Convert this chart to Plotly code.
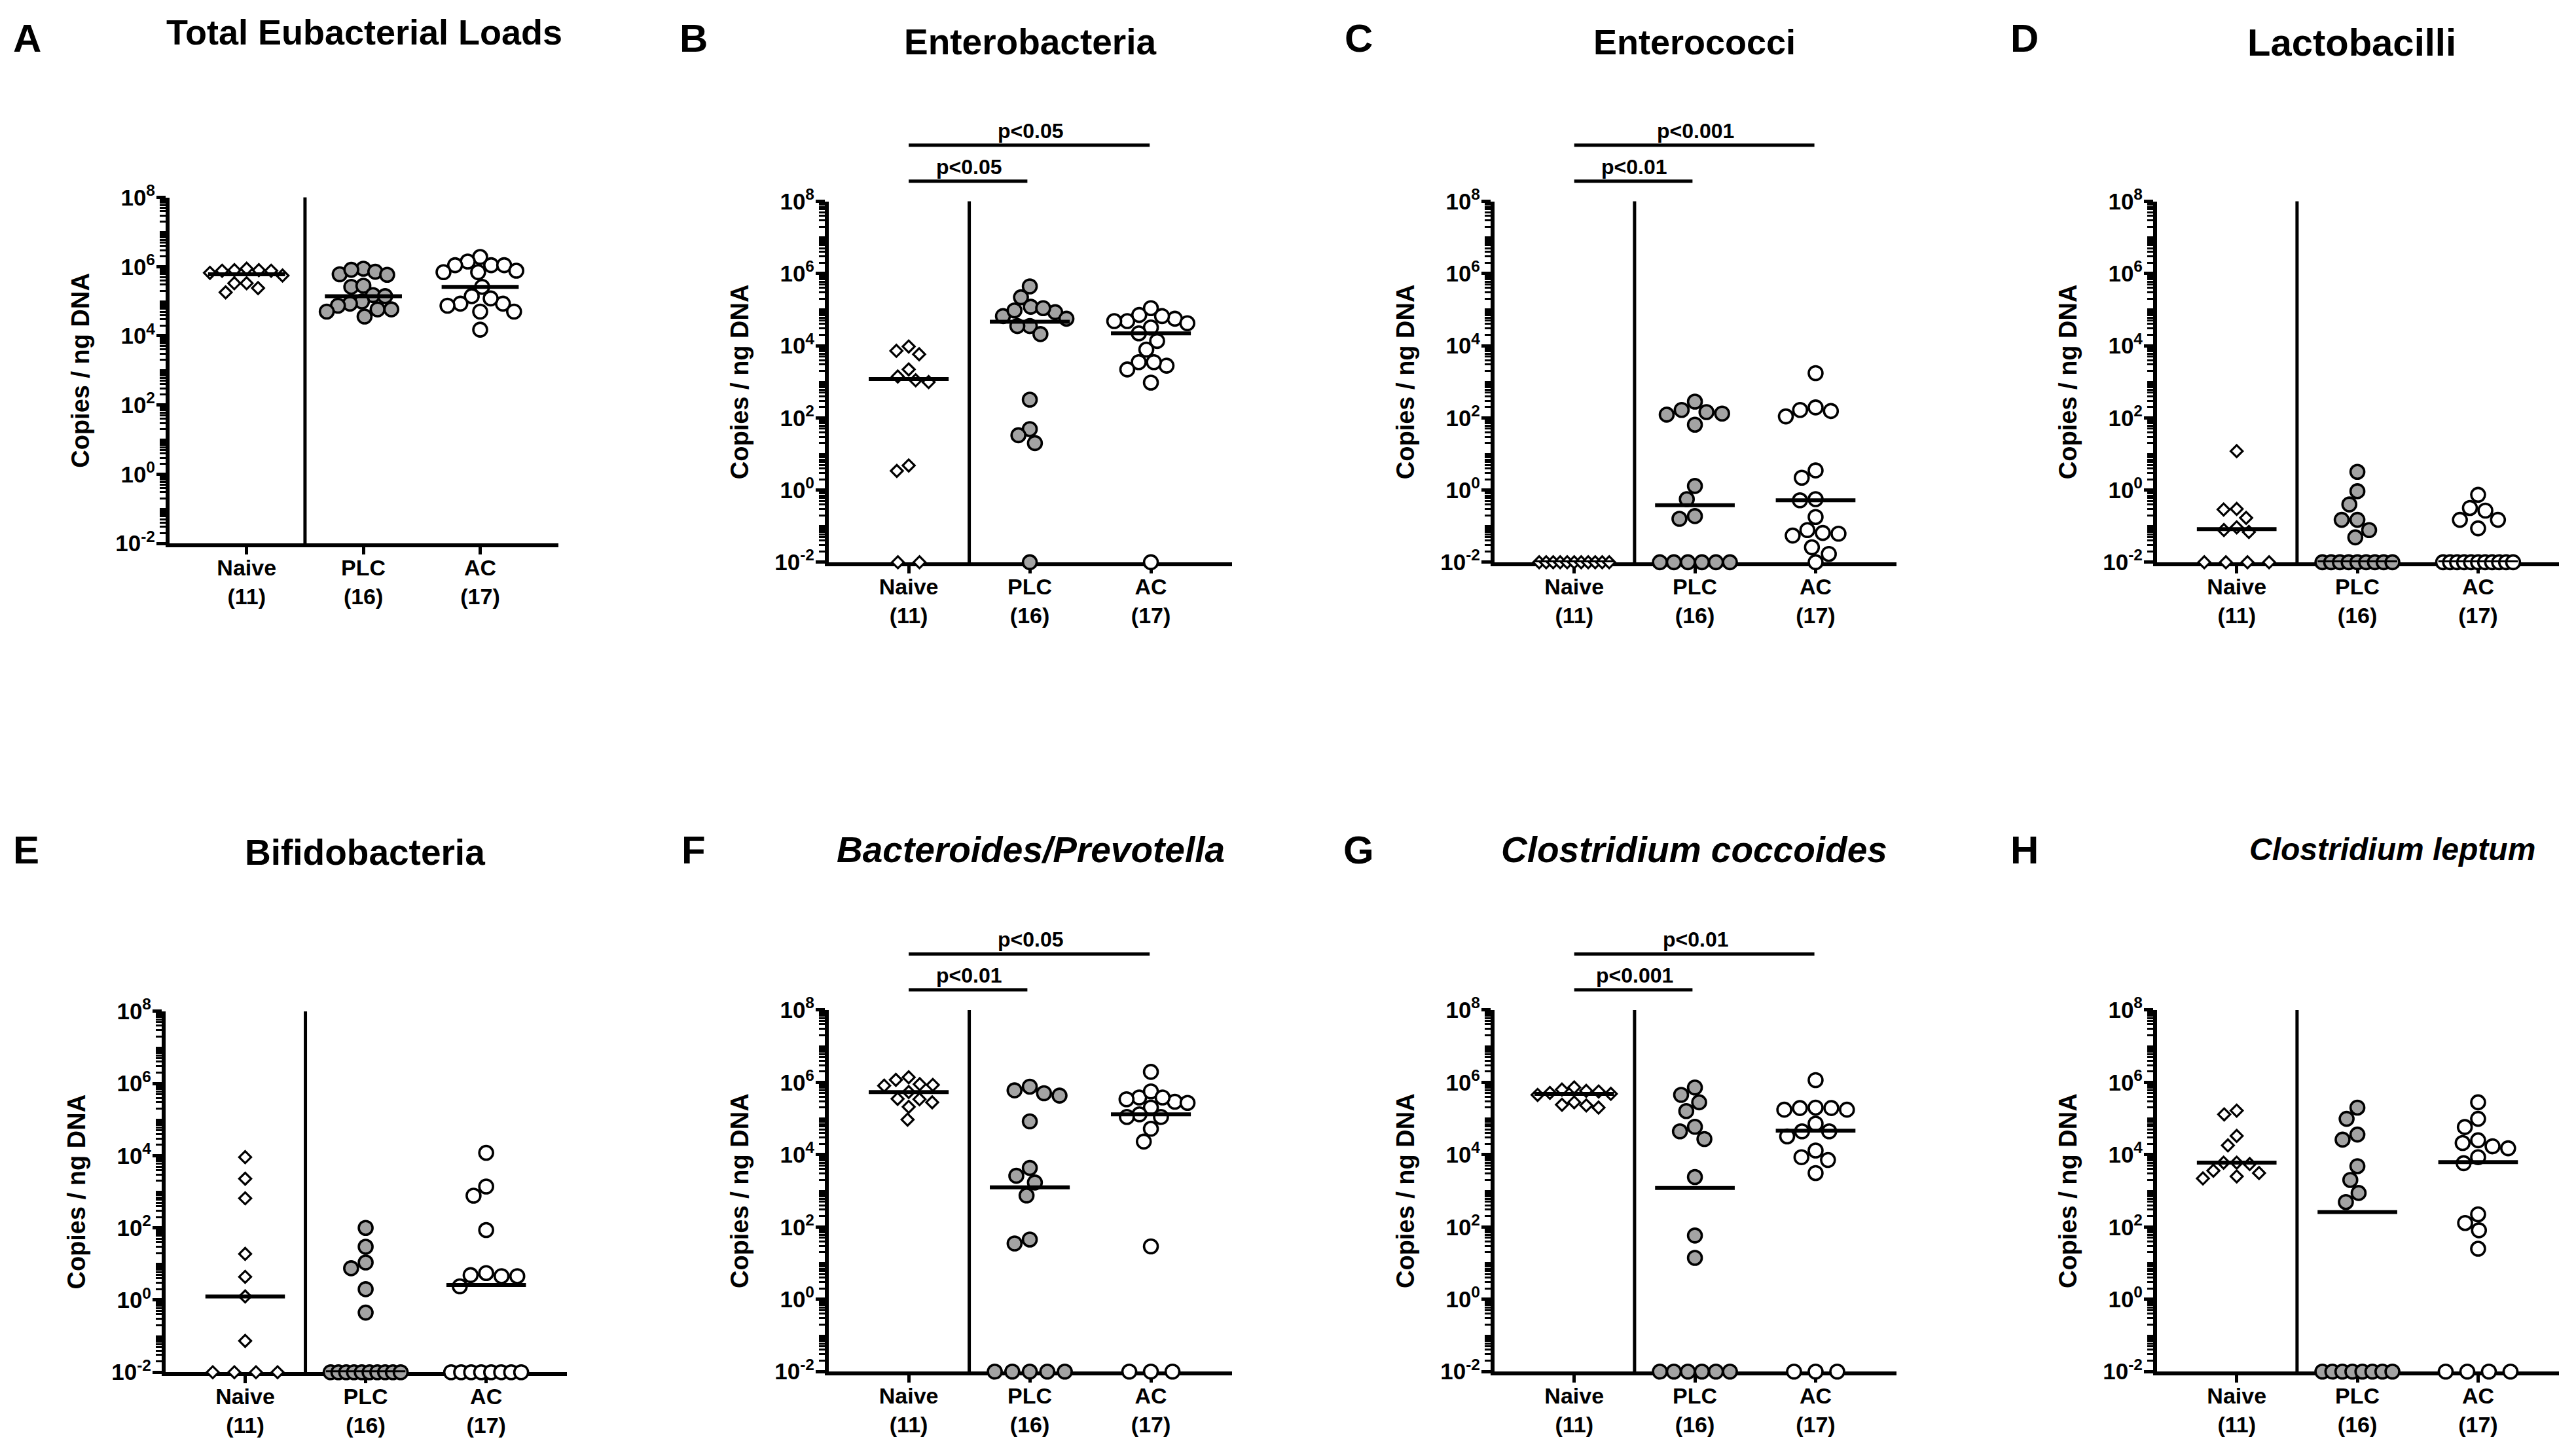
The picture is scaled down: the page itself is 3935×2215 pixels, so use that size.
import numpy as np
import plotly.graph_objects as go

# ---------------- data ----------------
groups = ["Naive", "PLC", "AC"]
group_n = ["(11)", "(16)", "(17)"]
panel_letters = ["A", "B", "C", "D", "E", "F", "G", "H"]
panel_titles = ["Total Eubacterial Loads", "Enterobacteria", "Enterococci", "Lactobacilli",
                "Bifidobacteria", "<i>Bacteroides/Prevotella</i>",
                "<i>Clostridium coccoides</i>", "<i>Clostridium leptum</i>"]
y_axis_title = "Copies / ng DNA"
y_tick_vals = [1e-2, 1e0, 1e2, 1e4, 1e6, 1e8]
y_tick_text = ["10<sup>-2</sup>", "10<sup>0</sup>", "10<sup>2</sup>", "10<sup>4</sup>",
               "10<sup>6</sup>", "10<sup>8</sup>"]

# A: Total Eubacterial Loads
naive_A = [8.7e5, 7.6e5, 5.5e5, 7.6e5, 7.9e5, 6.6e5, 7.9e5, 2.4e5, 3.3e5, 3.3e5, 1.8e5]
plc_A = [8.7e5, 6.0e5, 7.1e5, 5.8e5, 8.1e5, 2.6e5, 2.8e5, 1.5e5, 1.4e5, 9.8e4, 8.5e4, 7.4e4,
         5.0e4, 5.8e4, 5.8e4, 3.6e4]
ac_A = [1.1e6, 1.1e6, 1.9e6, 1.4e6, 1.1e6, 6.9e5, 6.9e5, 7.6e5, 2.6e5, 1.4e5, 8.5e4, 8.5e4,
        1.2e5, 7.4e4, 5.0e4, 5.0e4, 1.5e4]
median_A = [6.0e5, 1.4e5, 2.6e5]

# B: Enterobacteria
naive_B = [9.5e3, 5.8e3, 7.2e3, 2.2e3, 9.8e2, 1.1e3, 1.4e3, 3.4, 4.8, 0.01, 0.01]
plc_B = [6.6e4, 9.5e4, 8.5e4, 1.2e5, 1.1e5, 2.2e5, 4.4e5, 3.5e4, 3.5e4, 5.6e4, 2.1e4, 3.2e2,
         49, 33, 20, 0.01]
ac_B = [4.8e4, 5.6e4, 6.6e4, 7.1e4, 1.1e5, 4.8e4, 4.2e4, 3.2e4, 2.2e4, 1.35e4, 7.8e3, 2.8e3,
        3.5e3, 3.5e3, 2.2e3, 9.5e2, 0.01]
median_B = [1.2e3, 4.6e4, 2.2e4]

# C: Enterococci
naive_C = [0.01] * 11
plc_C = [145, 166, 132, 282, 123, 65, 1.3, 0.56, 0.16, 0.19, 0.01, 0.01, 0.01, 0.01, 0.01, 0.01]
ac_C = [1740, 155, 195, 110, 166, 2.2, 3.5, 0.52, 0.56, 0.18, 0.055, 0.078, 0.062, 0.065,
        0.026, 0.017, 0.01]
median_C = [0.01, 0.38, 0.52]

# D: Lactobacilli
naive_D = [12, 0.29, 0.30, 0.17, 0.093, 0.069, 0.078, 0.01, 0.01, 0.01, 0.01]
plc_D = [3.2, 0.93, 0.40, 0.15, 0.15, 0.078, 0.049] + [0.01] * 9
ac_D = [0.74, 0.27, 0.32, 0.15, 0.15, 0.087] + [0.01] * 11
median_D = [0.083, 0.01, 0.01]

# E: Bifidobacteria
naive_E = [9.1e3, 2.3e3, 660, 19, 4.4, 1.26, 0.074, 0.01, 0.01, 0.01, 0.01]
plc_E = [100, 30, 11, 7.6, 2.0, 0.45] + [0.01] * 10
ac_E = [1.2e4, 1.4e3, 780, 87, 5.6, 4.6, 4.6, 4.9, 2.4] + [0.01] * 8
median_E = [1.26, 0.01, 2.6]

# F: Bacteroides/Prevotella
naive_F = [1.17e6, 8.5e5, 8.1e5, 8.9e5, 1.38e6, 5.4e5, 3.5e5, 2.8e5, 3.4e5, 2.1e5, 9.3e4]
plc_F = [7.6e5, 4.3e5, 5.0e5, 6.0e5, 8.3e4, 4.3e3, 1.7e3, 2.6e3, 740, 45, 35] + [0.01] * 5
ac_F = [1.95e6, 3.8e5, 2.9e5, 2.7e5, 5.6e5, 3.4e5, 3.8e5, 2.0e5, 1.3e5, 1.1e5, 5.2e4, 2.3e4,
        29, 1.1e5, 0.01, 0.01, 0.01]
median_F = [5.4e5, 1.25e3, 1.3e5]

# G: Clostridium coccoides
naive_G = [7.2e5, 5.1e5, 4.8e5, 5.6e5, 6.3e5, 5.8e5, 4.5e5, 2.3e5, 2.4e5, 2.8e5, 2.0e5]
plc_G = [7.2e5, 4.5e5, 2.8e5, 1.6e5, 5.9e4, 4.4e4, 2.7e4, 2.4e3, 58, 14] + [0.01] * 6
ac_G = [1.15e6, 1.95e5, 1.95e5, 1.75e5, 1.75e5, 2.0e5, 7.2e4, 4.4e4, 3.2e4, 4.4e4, 1.3e4,
        7.1e3, 8.5e3, 3.1e3, 0.01, 0.01, 0.01]
median_G = [4.8e5, 1.2e3, 4.6e4]

# H: Clostridium leptum
naive_H = [1.3e5, 1.65e5, 3.3e4, 1.8e4, 6.0e3, 5.5e3, 6.0e3, 2.5e3, 3.1e3, 3.6e3, 2.2e3]
plc_H = [2.0e5, 9.8e4, 3.6e4, 2.6e4, 4.8e3, 2.0e3, 870, 490] + [0.01] * 8
ac_H = [2.8e5, 9.8e4, 5.8e4, 1.5e4, 1.7e4, 2.1e4, 2.5e4, 5.8e3, 8.5e3, 224, 129, 81, 25,
        0.01, 0.01, 0.01, 0.01]
median_H = [6.0e3, 260, 6.2e3]

# significance brackets: (lower bracket Naive-PLC, upper bracket Naive-AC)
sig_lower = {"B": "p<0.05", "C": "p<0.01", "F": "p<0.01", "G": "p<0.001"}
sig_upper = {"B": "p<0.05", "C": "p<0.001", "F": "p<0.05", "G": "p<0.01"}

panel_data = {
    "A": (naive_A, plc_A, ac_A, median_A), "B": (naive_B, plc_B, ac_B, median_B),
    "C": (naive_C, plc_C, ac_C, median_C), "D": (naive_D, plc_D, ac_D, median_D),
    "E": (naive_E, plc_E, ac_E, median_E), "F": (naive_F, plc_F, ac_F, median_F),
    "G": (naive_G, plc_G, ac_G, median_G), "H": (naive_H, plc_H, ac_H, median_H),
}

# ---------------- layout (pixels, in target-image coordinates) ----------------
W, H = 3935, 2215
boxes = {
    "A": (259, 853, 299, 829), "B": (1266, 1882, 305, 858),
    "C": (2283, 2897, 305, 858), "D": (3295, 3909, 305, 858),
    "E": (253, 866, 1546, 2099), "F": (1266, 1882, 1544, 2098),
    "G": (2283, 2897, 1544, 2098), "H": (3295, 3909, 1544, 2098),
}
title_pos = {"A": (556, 46), "B": (1574, 61), "C": (2588, 61), "D": (3592, 61),
             "E": (557, 1302), "F": (1574, 1298), "G": (2588, 1298), "H": (3654, 1298)}
title_size = {"A": 54, "B": 55, "C": 54, "D": 58, "E": 55, "F": 55, "G": 55, "H": 48}
letter_pos = {"A": (41, 55), "B": (1059, 55), "C": (2075, 55), "D": (3092, 55),
              "E": (40, 1299), "F": (1059, 1299), "G": (2075, 1299), "H": (3092, 1299)}
XR = [-0.66, 2.67]
FONT = "Liberation Sans, Arial, Helvetica, sans-serif"

# the captured page is slightly offset / rescaled vertically; compensate
Y_SCALE, Y_OFF = 0.9835, 20.6


def px_x(px):
    return px / W


def ty(py):
    return (py - Y_OFF) / Y_SCALE


def px_y(py):
    return 1 - ty(py) / H


def swarm(vals, ppu, ppd, d, floor=0.01, floor_span=107.0, floor_step=33.0):
    vals = np.asarray(vals, float)
    off = np.zeros(len(vals))
    isfloor = vals <= floor * 1.0001
    fidx = np.where(isfloor)[0]
    nf = len(fidx)
    placed = []
    if nf > 1:
        step = min(floor_step, floor_span / (nf - 1))
        for k, i in enumerate(fidx):
            off[i] = (k - (nf - 1) / 2) * step
    for i in fidx:
        placed.append((off[i], np.log10(vals[i]) * ppd))
    order = [i for i in np.argsort(-vals, kind="stable") if not isfloor[i]]
    for i in order:
        y = np.log10(vals[i]) * ppd
        cands = [0.0]
        for (px, py) in placed:
            dy = abs(py - y)
            if dy < d:
                dx = np.sqrt(d * d - dy * dy)
                cands += [px + dx, px - dx]
        cands.sort(key=lambda c: (round(abs(c), 6), c))
        chosen = cands[-1]
        for c in cands:
            if all((c - px) ** 2 + (y - py) ** 2 >= d * d - 1e-6 for px, py in placed):
                chosen = c
                break
        placed.append((chosen, y))
        off[i] = chosen
    nonf = [i for i in range(len(vals)) if not isfloor[i]]
    if nonf:
        m = max(abs(off[i]) for i in nonf)
        if m > 56:
            for i in nonf:
                off[i] *= 56 / m
    return off / ppu


fig = go.Figure()
layout = dict(width=W, height=H, margin=dict(l=0, r=0, t=0, b=0),
              paper_bgcolor="white", plot_bgcolor="white", showlegend=False,
              font=dict(family=FONT, color="black"))
shapes, annotations = [], []

marker_styles = [
    dict(symbol="diamond", size=14, color="white", line=dict(color="black", width=3.2)),
    dict(symbol="circle", size=21, color="#a3a3a3", line=dict(color="black", width=3.6)),
    dict(symbol="circle", size=21, color="white", line=dict(color="black", width=3.6)),
]
marker_diam = [20, 24, 24]

minor_vals = [k * 10.0 ** e for e in range(-2, 8) for k in range(2, 11)]

for idx, key in enumerate(panel_letters):
    n = idx + 1
    xa = "x" if n == 1 else f"x{n}"
    ya = "y" if n == 1 else f"y{n}"
    x0, x1, yt, yb = boxes[key]
    ppu = (x1 - x0) / (XR[1] - XR[0])
    ppd = (ty(yb) - ty(yt)) / 10.0
    series = panel_data[key]
    for g in range(3):
        vals = series[g]
        offs = swarm(vals, ppu, ppd, marker_diam[g])
        fig.add_trace(go.Scatter(
            x=g + offs, y=vals, mode="markers", marker=marker_styles[g],
            xaxis=xa, yaxis=ya, cliponaxis=False, hoverinfo="skip"))
    med = series[3]
    for g in range(3):
        fig.add_trace(go.Scatter(
            x=[g - 0.33, g + 0.33], y=[med[g], med[g]], mode="lines",
            line=dict(color="black", width=6), xaxis=xa, yaxis=ya,
            cliponaxis=False, hoverinfo="skip"))

    layout["xaxis" if n == 1 else f"xaxis{n}"] = dict(
        domain=[px_x(x0), px_x(x1)], anchor=ya, range=XR, showgrid=False, zeroline=False,
        showline=True, linecolor="black", linewidth=6, ticks="outside", ticklen=11,
        tickwidth=5, tickcolor="black", tickvals=[0, 1, 2],
        ticktext=[f"{groups[i]}<br>{group_n[i]}" for i in range(3)],
        tickfont=dict(family=FONT, size=34, color="black", weight="bold"),
        ticklabelstandoff=-9, layer="below traces", fixedrange=True)
    layout["yaxis" if n == 1 else f"yaxis{n}"] = dict(
        domain=[px_y(yb), px_y(yt)], anchor=xa, type="log", range=[-2, 8],
        showgrid=False, zeroline=False, showline=True, linecolor="black", linewidth=6,
        ticks="outside", ticklen=14, tickwidth=5, tickcolor="black",
        tickvals=y_tick_vals, ticktext=y_tick_text,
        tickfont=dict(family=FONT, size=35, color="black", weight="bold"),
        ticklabelstandoff=-5,
        minor=dict(ticks="outside", ticklen=9, tickwidth=3, tickcolor="black",
                   tickvals=minor_vals, showgrid=False),
        layer="below traces", fixedrange=True)

    shapes.append(dict(type="line", xref=xa, yref=f"{ya} domain", x0=0.5, x1=0.5,
                       y0=0, y1=1, line=dict(color="black", width=5)))
    annotations.append(dict(text=f"<b>{y_axis_title}</b>", textangle=-90, xref="paper",
                            yref="paper", x=px_x(x0 - 136), y=px_y((yt + yb) / 2),
                            showarrow=False, xanchor="center", yanchor="middle",
                            font=dict(family=FONT, size=38, color="black")))
    tx, tyy = title_pos[key]
    annotations.append(dict(text=f"<b>{panel_titles[idx]}</b>", xref="paper", yref="paper",
                            x=px_x(tx), y=px_y(tyy), showarrow=False, xanchor="center",
                            yanchor="middle",
                            font=dict(family=FONT, size=title_size[key], color="black")))
    lx, ly = letter_pos[key]
    annotations.append(dict(text=f"<b>{key}</b>", xref="paper", yref="paper",
                            x=px_x(lx), y=px_y(ly), showarrow=False, xanchor="center",
                            yanchor="middle", font=dict(family=FONT, size=60, color="black")))
    if key in sig_lower:
        for (x_end, dy_line, dy_text, label) in [(0.98, 31, 53, sig_lower[key]),
                                                  (1.99, 86, 108, sig_upper[key])]:
            shapes.append(dict(type="line", xref=xa, yref="paper", x0=0.0, x1=x_end,
                               y0=px_y(yt - dy_line), y1=px_y(yt - dy_line),
                               line=dict(color="black", width=5)))
            annotations.append(dict(text=f"<b>{label}</b>", xref=xa, yref="paper",
                                    x=x_end / 2 + 0.01, y=px_y(yt - dy_text), showarrow=False,
                                    xanchor="center", yanchor="middle",
                                    font=dict(family=FONT, size=32, color="black")))

layout["shapes"] = shapes
layout["annotations"] = annotations
fig.update_layout(**layout)
fig.write_html("out.html")
